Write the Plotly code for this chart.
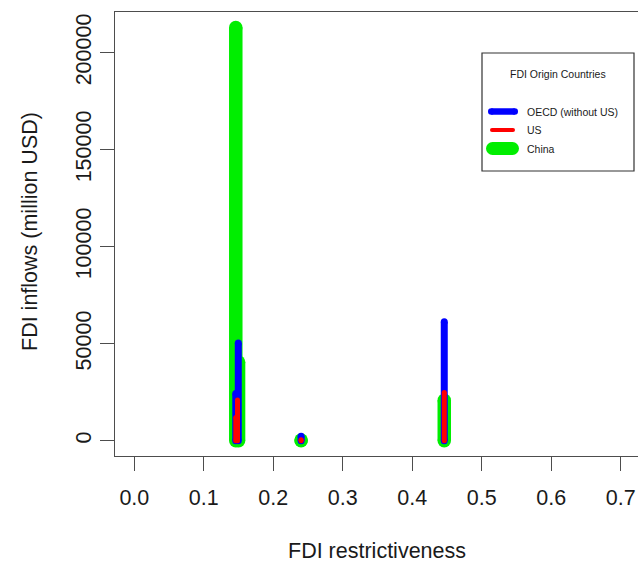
import plotly.graph_objects as go

# FDI restrictiveness index (x) and FDI inflows in million USD (y), by origin
china_x = [0.146, 0.150, 0.240, 0.446]
china_y = [213000, 40600, 300, 20800]

oecd_x = [0.146, 0.1496, 0.240, 0.446]
oecd_y = [24300, 50400, 2300, 61300]

us_x = [0.146, 0.1485, 0.240, 0.446]
us_y = [12000, 21000, 500, 24800]

series_names = ["OECD (without US)", "US", "China"]
series_colors = ["#0000ff", "#ff0000", "#00ee00"]
series_widths = [7, 5, 13.5]
legend_widths = [6.5, 4, 13]

x_ticks = [0.0, 0.1, 0.2, 0.3, 0.4, 0.5, 0.6, 0.7]
y_ticks = [0, 50000, 100000, 150000, 200000]

W, H = 638, 564
L, R, T, B = 115, 0, 12, 108
PW, PH = W - L - R, H - T - B

FONT = "Liberation Sans, Arial, Helvetica, sans-serif"


def px_x(p):
    return (p - L) / PW


def px_y(p):
    return (H - B - p) / PH


def spikes(xs, ys):
    """Vertical segments from zero up to each value (R type='h')."""
    px, py = [], []
    for x, y in zip(xs, ys):
        px += [x, x, None]
        py += [0, y, None]
    return px, py


fig = go.Figure()

# draw order: China underneath, then OECD, then US on top
order = [(china_x, china_y, 2), (oecd_x, oecd_y, 0), (us_x, us_y, 1)]
for xs, ys, k in order:
    lx, ly = spikes(xs, ys)
    fig.add_trace(go.Scatter(
        x=lx, y=ly, mode="lines+markers", name=series_names[k],
        line=dict(color=series_colors[k], width=series_widths[k]),
        marker=dict(color=series_colors[k], size=series_widths[k],
                    line=dict(width=0)),
        showlegend=False, hoverinfo="skip", cliponaxis=False,
    ))

axis_col = "#4d4d4d"
fig.update_xaxes(
    range=[-0.0278, 0.7248], tickmode="array", tickvals=x_ticks,
    ticktext=[f"{v:.1f}" for v in x_ticks],
    showgrid=False, zeroline=False, showline=True, mirror=True,
    linecolor=axis_col, linewidth=1.3, ticks="outside", ticklen=14,
    tickcolor=axis_col, tickwidth=1.3, ticklabelstandoff=8,
    tickfont=dict(family=FONT, size=21.5, color="#1a1a1a"),
)
fig.update_yaxes(
    range=[-7890, 220980], tickmode="array", tickvals=y_ticks,
    ticktext=[str(v) for v in y_ticks], tickangle=-90,
    showgrid=False, zeroline=False, showline=True, mirror=False,
    linecolor=axis_col, linewidth=1.3, ticks="outside", ticklen=14,
    tickcolor=axis_col, tickwidth=1.3, ticklabelstandoff=0,
    tickfont=dict(family=FONT, size=21.5, color="#1a1a1a"),
)

annotations = [
    dict(text="FDI restrictiveness", x=px_x(377), y=px_y(551),
         xref="paper", yref="paper", xanchor="center", yanchor="middle",
         showarrow=False, font=dict(family=FONT, size=21.5, color="#1a1a1a")),
    dict(text="FDI inflows (million USD)", x=px_x(30), y=px_y(232),
         xref="paper", yref="paper", xanchor="center", yanchor="middle",
         textangle=-90, showarrow=False,
         font=dict(family=FONT, size=21.5, color="#1a1a1a")),
    dict(text="FDI Origin Countries", x=px_x(558), y=px_y(74),
         xref="paper", yref="paper", xanchor="center", yanchor="middle",
         showarrow=False, font=dict(family=FONT, size=10.5, color="#1a1a1a")),
]

# legend box
shapes = [dict(type="rect", xref="paper", yref="paper",
               x0=px_x(482), x1=px_x(634), y0=px_y(171), y1=px_y(53),
               line=dict(color="#333333", width=1.2), fillcolor="white",
               layer="above")]

legend_rows = [111.5, 130, 148.5]
legend_spans = [(488, 518), (490, 515), (486, 519)]
for k, (yy, (a, b)) in enumerate(zip(legend_rows, legend_spans)):
    w = legend_widths[k]
    r = w / 2
    shapes.append(dict(type="line", xref="paper", yref="paper",
                       x0=px_x(a + r), x1=px_x(b - r), y0=px_y(yy), y1=px_y(yy),
                       line=dict(color=series_colors[k], width=w), layer="above"))
    for cx in (a + r, b - r):
        shapes.append(dict(type="circle", xref="paper", yref="paper",
                           x0=px_x(cx - r), x1=px_x(cx + r),
                           y0=px_y(yy + r), y1=px_y(yy - r),
                           fillcolor=series_colors[k], line=dict(width=0),
                           layer="above"))
    annotations.append(dict(text=series_names[k], x=px_x(525), y=px_y(yy),
                            xref="paper", yref="paper", xanchor="left",
                            yanchor="middle", showarrow=False,
                            font=dict(family=FONT, size=10.5, color="#1a1a1a")))

fig.update_layout(
    width=W, height=H, margin=dict(l=L, r=R, t=T, b=B, pad=0),
    paper_bgcolor="white", plot_bgcolor="white",
    annotations=annotations, shapes=shapes, showlegend=False,
)

fig.write_html("out.html")
